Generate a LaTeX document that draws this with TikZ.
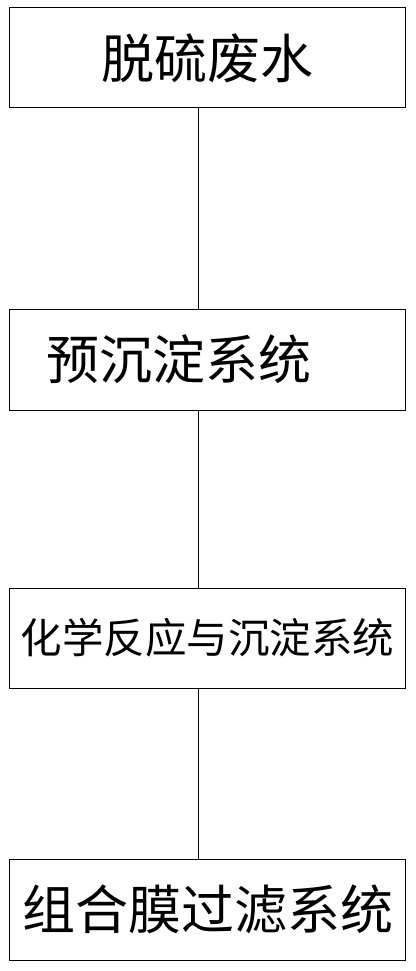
\documentclass[tikz,border=0pt]{standalone}
\usepackage{fontspec}
\newfontfamily\cjk{Noto Sans CJK SC}
\begin{document}
\begin{tikzpicture}[x=1pt,y=-1pt,
  box/.style={draw, line width=1pt, rectangle, inner sep=0pt, minimum width=396pt, minimum height=100pt, font=\cjk\fontsize{53}{53}\selectfont},
  link/.style={draw, line width=1pt}]
\useasboundingbox (0,0) rectangle (415,971);
\node[box] (water) at (207.5,58) {脱硫废水};
\node[box, minimum height=101pt, inner xsep=37pt, text width=322pt, align=left] (pre) at (207.5,359.5) {预沉淀系统};
\node[box, font=\cjk\fontsize{41.5}{41.5}\selectfont] (chem) at (207.5,638) {化学反应与沉淀系统};
\node[box, minimum height=101pt] (membrane) at (207.5,909.5) {组合膜过滤系统};

\path[link] ([xshift=-9.5pt]water.south) -- ([xshift=-9.5pt]pre.north);
\path[link] ([xshift=-9.5pt]pre.south) -- ([xshift=-9.5pt]chem.north);
\path[link] ([xshift=-9.5pt]chem.south) -- ([xshift=-9.5pt]membrane.north);
\end{tikzpicture}
\end{document}
